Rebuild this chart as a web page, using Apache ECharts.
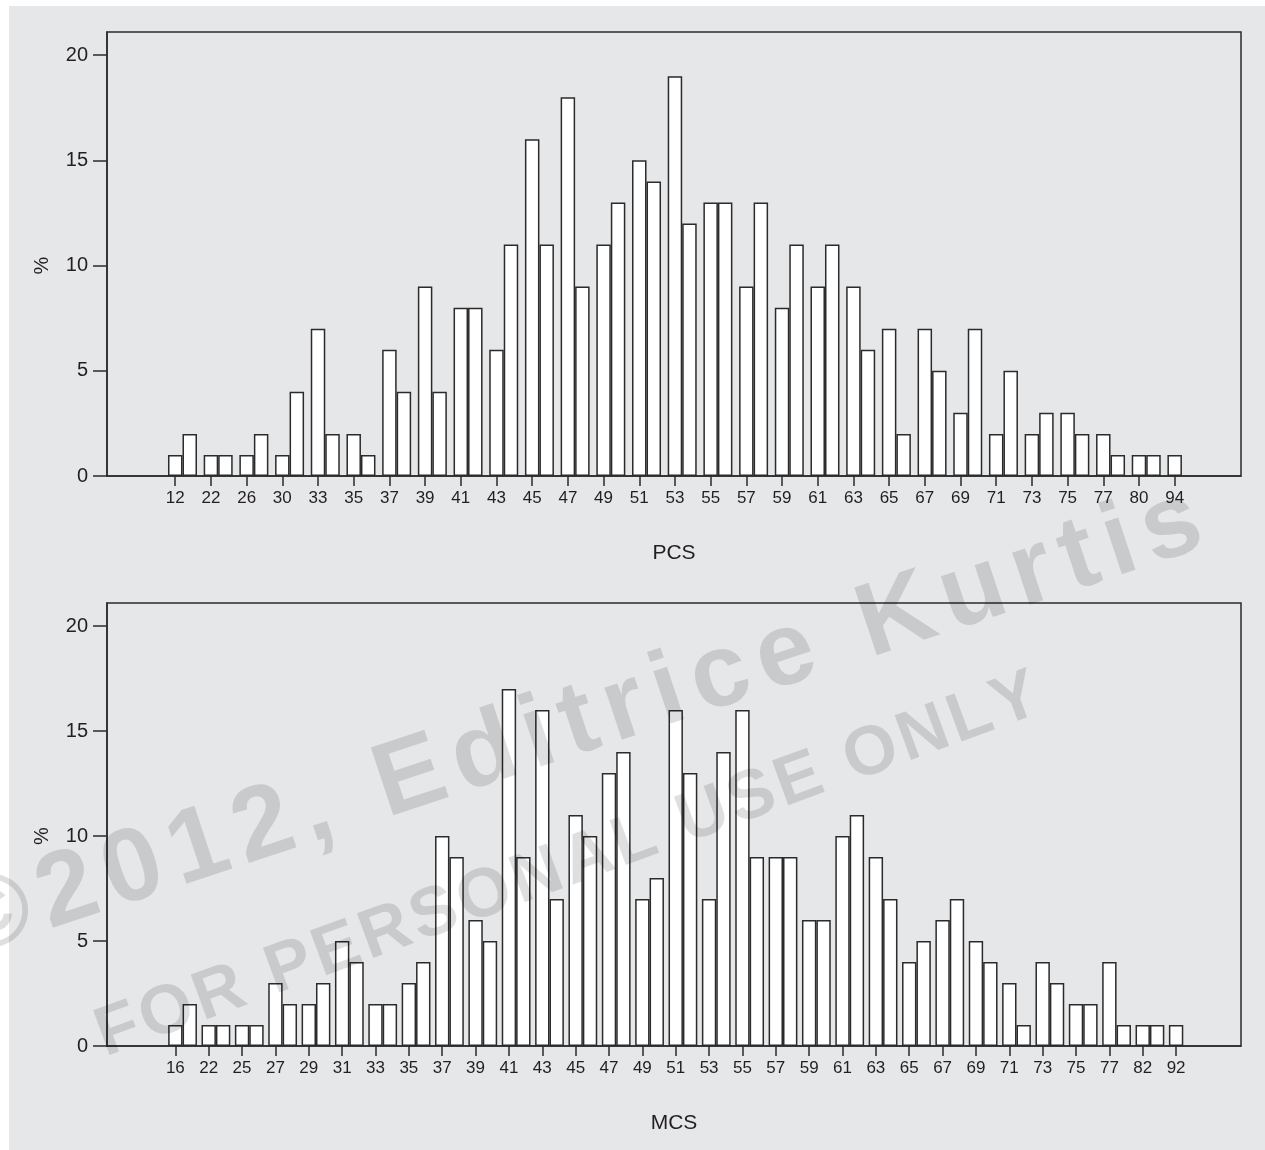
<!DOCTYPE html>
<html><head><meta charset="utf-8">
<script src="https://cdn.jsdelivr.net/npm/echarts@6/dist/echarts.min.js"></script>
<style>html,body{margin:0;padding:0;background:#fff;}#c{width:1265px;height:1150px;}</style>
</head><body><div id="c"></div>
<script>
// ---- data ----
const pcsLabels = ['12','22','26','30','33','35','37','39','41','43','45','47','49','51','53','55','57','59','61','63','65','67','69','71','73','75','77','80','94'];
const pcsValues = [1,2, 1,1, 1,2, 1,4, 7,2, 2,1, 6,4, 9,4, 8,8, 6,11, 16,11, 18,9, 11,13, 15,14, 19,12, 13,13, 9,13, 8,11, 9,11, 9,6, 7,2, 7,5, 3,7, 2,5, 2,3, 3,2, 2,1, 1,1, 1];
const mcsLabels = ['16','22','25','27','29','31','33','35','37','39','41','43','45','47','49','51','53','55','57','59','61','63','65','67','69','71','73','75','77','82','92'];
const mcsValues = [1,2, 1,1, 1,1, 3,2, 2,3, 5,4, 2,2, 3,4, 10,9, 6,5, 17,9, 16,7, 11,10, 13,14, 7,8, 16,13, 7,14, 16,9, 9,9, 6,6, 10,11, 9,7, 4,5, 6,7, 5,4, 3,1, 4,3, 2,2, 4,1, 1,1, 1];
const yTicks = [0,5,10,15,20];
const yName = '%';
const xNames = ['PCS','MCS'];

// ---- style ----
const FONT = "'Liberation Sans', Arial, Helvetica, sans-serif";
const INK = '#231f20';
const BG = '#e6e7e9';
const panels = [
  {labels: pcsLabels, values: pcsValues, name: xNames[0], top: 32, height: 444, xmin: -3.73, xmax: 59.81, barRatio: 0.8125},
  {labels: mcsLabels, values: mcsValues, name: xNames[1], top: 603, height: 443, xmin: -4.03, xmax: 63.96, barRatio: 0.863}
];

const grids = [], xAxes = [], yAxes = [], series = [], graphics = [];
graphics.push({type:'rect', shape:{x:9,y:6,width:1256,height:1144}, style:{fill:BG}, z:-10, silent:true});

panels.forEach((p, gi) => {
  grids.push({left:107, width:1134, top:p.top, height:p.height, show:true, borderColor:'#2b2b2b', borderWidth:1.5, backgroundColor:'transparent'});
  const shift = (1 - p.barRatio) / 2;
  const tickVals = p.labels.map((_, k) => 2*k + shift);
  xAxes.push({
    type:'value', gridIndex:gi, min:p.xmin, max:p.xmax,
    splitLine:{show:false},
    axisLine:{show:true, onZero:false, lineStyle:{color:'#2b2b2b', width:1.5}},
    axisTick:{show:true, length:10, customValues:tickVals, lineStyle:{color:'#2b2b2b', width:1.5}},
    axisLabel:{customValues:tickVals, margin:14, color:INK, fontSize:17, fontFamily:FONT,
      formatter: v => p.labels[Math.round((v - shift)/2)]},
    name:p.name, nameLocation:'middle', nameGap:67,
    nameTextStyle:{color:INK, fontSize:21, fontFamily:FONT}
  });
  yAxes.push({
    type:'value', gridIndex:gi, min:0, max:21.1,
    splitLine:{show:false},
    axisLine:{show:true, onZero:false, lineStyle:{color:'#2b2b2b', width:1.5}},
    axisTick:{show:true, length:14, customValues:yTicks, lineStyle:{color:'#2b2b2b', width:1.5}},
    axisLabel:{customValues:yTicks, margin:19, color:INK, fontSize:20, fontFamily:FONT}
  });
  const odd = [], even = [];
  p.values.forEach((v, i) => (i % 2 === 0 ? even : odd).push([i, v]));
  const gap = ((1 - 2*p.barRatio) / p.barRatio * 100).toFixed(2) + '%';
  const common = {type:'bar', xAxisIndex:gi, yAxisIndex:gi, barWidth:(p.barRatio*100).toFixed(2)+'%', barGap:gap,
    itemStyle:{color:'#ffffff', borderColor:'#2b2b2b', borderWidth:1.5}, silent:true, animation:false};
  series.push(Object.assign({name:p.name+'-b', data:odd}, common));
  series.push(Object.assign({name:p.name+'-a', data:even}, common));
  // y axis title
  const y0 = p.top + p.height, y20 = y0 - p.height * 20 / 21.1;
  graphics.push({type:'text', x:42, y:(y0 + y20)/2, rotation:Math.PI/2, silent:true,
    style:{text:yName, fill:INK, font:'20px ' + FONT, align:'center', verticalAlign:'middle', textAlign:'center', textVerticalAlign:'middle'}});
});

// watermark, laid out character by character
function lineText(str, cx, cy, angleDeg, size, spacing) {
  const ctx = document.createElement('canvas').getContext('2d');
  const font = 'bold ' + size + 'px ' + FONT;
  ctx.font = font;
  const chars = Array.from(str);
  const widths = chars.map(ch => ctx.measureText(ch).width);
  const total = widths.reduce((a, b) => a + b, 0) + spacing * (chars.length - 1);
  const a = angleDeg * Math.PI / 180, dx = Math.cos(a), dy = -Math.sin(a);
  let s = -total / 2;
  return chars.map((ch, i) => {
    const mid = s + widths[i] / 2; s += widths[i] + spacing;
    return {type:'text', x: cx + mid*dx, y: cy + mid*dy, rotation:a, z:100, silent:true,
      style:{text:ch, font:font, fill:'rgba(0,0,0,0.125)', align:'center', verticalAlign:'middle', textAlign:'center', textVerticalAlign:'middle'}};
  });
}
graphics.push(...lineText('\u00A92012, Editrice Kurtis', 578, 724, 18.3, 104, 11));
graphics.push(...lineText('FOR PERSONAL USE ONLY', 568, 866, 20.2, 69, 4));

const chart = echarts.init(document.getElementById('c'), null, {renderer:'canvas'});
chart.setOption({
  backgroundColor:'#ffffff',
  animation:false,
  textStyle:{fontFamily:FONT},
  grid:grids, xAxis:xAxes, yAxis:yAxes, series:series,
  graphic:{elements:graphics}
});
</script></body></html>
